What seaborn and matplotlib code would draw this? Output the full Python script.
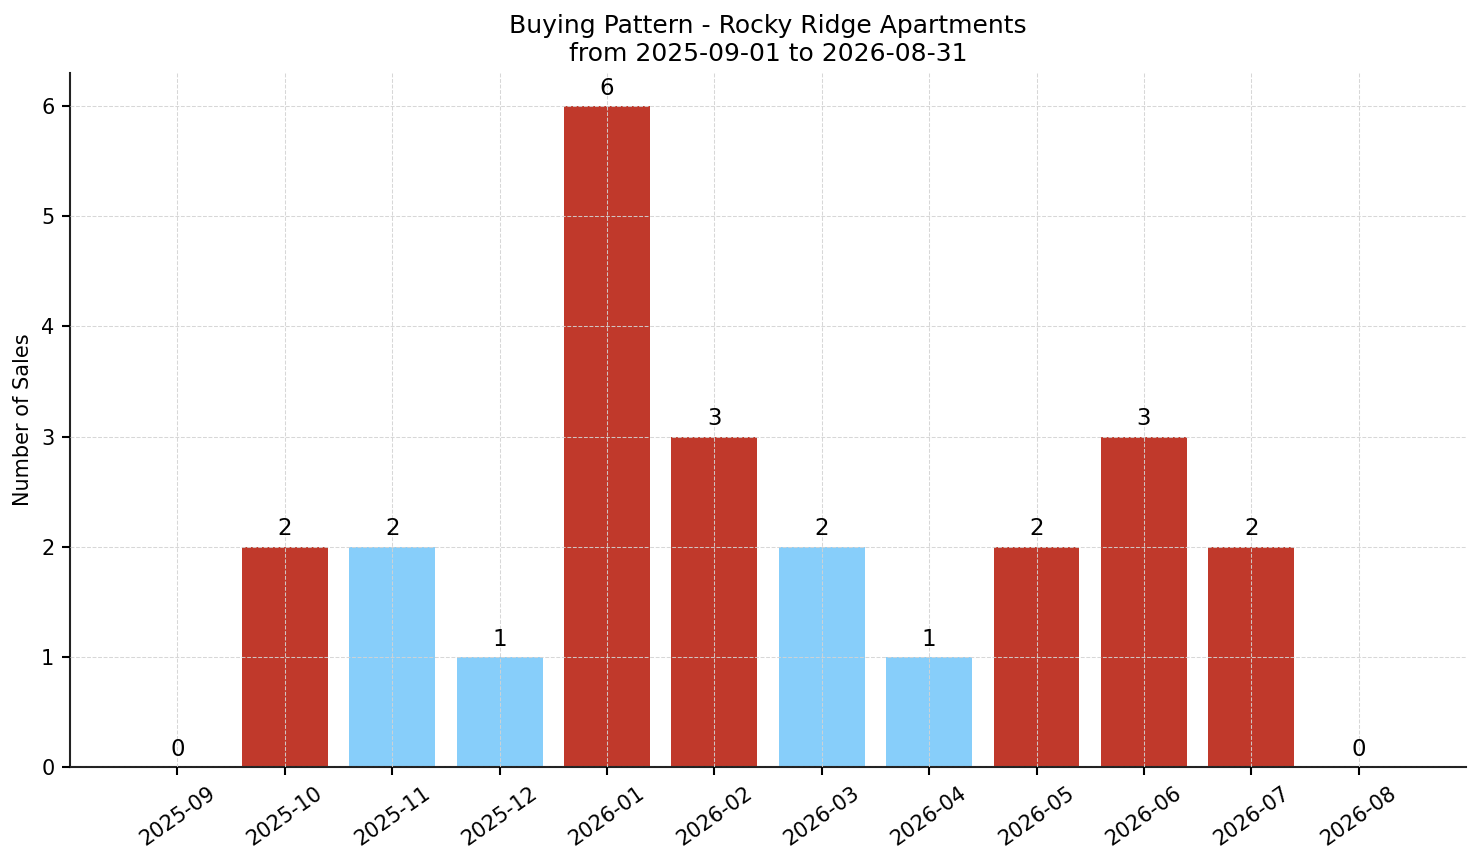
import matplotlib
matplotlib.use("Agg")
import matplotlib.pyplot as plt
import seaborn as sns
import pandas as pd

# --- DATA ---
months = ['2025-09', '2025-10', '2025-11', '2025-12', '2026-01', '2026-02',
          '2026-03', '2026-04', '2026-05', '2026-06', '2026-07', '2026-08']
sales = [0, 2, 2, 1, 6, 3, 2, 1, 2, 3, 2, 0]
bar_colors = ['#C0392B', '#C0392B', '#87CEFA', '#87CEFA', '#C0392B', '#C0392B',
              '#87CEFA', '#87CEFA', '#C0392B', '#C0392B', '#C0392B', '#C0392B']

TITLE = 'Buying Pattern - Rocky Ridge Apartments\nfrom 2025-09-01 to 2026-08-31'

df = pd.DataFrame({'month': months, 'sales': sales})

sns.set_style('white')
plt.rcParams['font.family'] = ['DejaVu Sans']
plt.rcParams['text.color'] = 'black'
plt.rcParams['axes.labelcolor'] = 'black'
plt.rcParams['xtick.color'] = 'black'
plt.rcParams['ytick.color'] = 'black'

fig, ax = plt.subplots(figsize=(1481 / 150, 863 / 150), dpi=150)
fig.subplots_adjust(left=0.0473, right=0.9899, top=0.9154, bottom=0.1112)

sns.barplot(data=df, x='month', y='sales', hue='month', palette=bar_colors,
            saturation=1, width=0.8, linewidth=0, legend=False, ax=ax)

for container in ax.containers:
    ax.bar_label(container, fontsize=11, padding=3, color='black')

ax.set_xlim(-1, 12)
ax.set_ylim(0, max(sales) * 1.05)
ax.set_title(TITLE, fontsize=12, color='black')
ax.set_xlabel('')
ax.set_ylabel('Number of Sales', fontsize=10)
ax.tick_params(axis='both', labelsize=10, length=4, width=1, bottom=True, left=True)
plt.setp(ax.get_xticklabels(), rotation=35, ha='center')

ax.set_axisbelow(False)
ax.grid(True, linestyle='--', color='lightgray', linewidth=0.5, alpha=0.9)
sns.despine(ax=ax)
for side in ['left', 'bottom']:
    ax.spines[side].set_color('#222222')
    ax.spines[side].set_linewidth(1)

fig.savefig('out.png', dpi=150)
